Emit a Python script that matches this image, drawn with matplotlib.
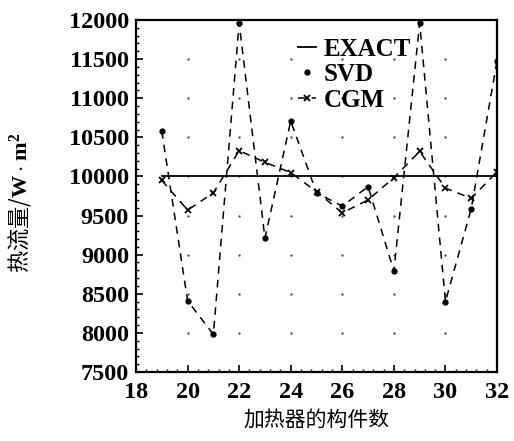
import numpy as np
import matplotlib
matplotlib.use("Agg")
import matplotlib.pyplot as plt
from matplotlib.ticker import MultipleLocator

plt.rcParams['font.family'] = ['Noto Sans CJK SC', 'DejaVu Sans']
plt.rcParams['mathtext.fontset'] = 'custom'
plt.rcParams['mathtext.bf'] = 'Liberation Serif:bold'
plt.rcParams['mathtext.rm'] = 'Liberation Serif:bold'

# data
components = [19, 20, 21, 22, 23, 24, 25, 26, 27, 28, 29, 30, 31, 32]
exact = [10000] * len(components)
svd = [10580, 8410, 7980, 11960, 9210, 10710, 9790, 9620, 9870, 8790, 11960, 8400, 9590, 11480]
cgm = [9950, 9570, 9790, 10330, 10180, 10050, 9805, 9535, 9700, 9985, 10320, 9850, 9720, 10060]

x_ticks = [18, 20, 22, 24, 26, 28, 30, 32]
y_ticks = [7500, 8000, 8500, 9000, 9500, 10000, 10500, 11000, 11500, 12000]

fig = plt.figure(figsize=(5.14, 4.41), dpi=100)
ax = fig.add_axes([0.2646, 0.1565, 0.7024, 0.7981])

# faint grid dots at the major intersections
gx, gy = np.meshgrid(x_ticks[1:-1], y_ticks[1:-1])
ax.plot(gx.ravel(), gy.ravel(), ls='none', marker='.', ms=1.5, color='#555555')

ax.plot(components, exact, '-', color='black', lw=1.3, label='EXACT')
ax.plot(components, svd, '--', color='black', lw=1.1, dashes=(5, 4))
ax.plot(components, svd, 'o', color='black', ms=3.5, label='SVD')
ax.plot(components, cgm, '--', color='black', lw=1.1, marker='x', ms=5, mew=1.3,
        dashes=(5, 4), label='CGM')

ax.set_xlim(18, 32)
ax.set_ylim(7500, 12000)
ax.set_xticks(x_ticks)
ax.set_yticks(y_ticks)
ax.xaxis.set_minor_locator(MultipleLocator(0.4))
ax.yaxis.set_minor_locator(MultipleLocator(100))
ax.tick_params(which='major', direction='in', length=5, width=1.2)
ax.tick_params(axis='x', which='major', pad=7)
ax.tick_params(axis='y', which='major', pad=5)
ax.tick_params(which='minor', direction='in', length=2.5, width=1)
for lab in ax.get_xticklabels() + ax.get_yticklabels():
    lab.set_family('Liberation Serif')
    lab.set_weight('bold')
    lab.set_fontsize(17.5)
for sp in ax.spines.values():
    sp.set_linewidth(1.6)

ax.set_xlabel('加热器的构件数', fontsize=15, labelpad=4)
ax.set_ylabel(r'热流量/$\mathbf{W\cdot m^2}$', fontsize=16)
ax.yaxis.set_label_coords(-0.285, 0.48)

ax.legend(loc='upper left', bbox_to_anchor=(0.45, 0.95), frameon=False,
          borderpad=0, borderaxespad=0,
          handlelength=0.7, handletextpad=0.3, labelspacing=0.1,
          prop={'family': 'Liberation Serif', 'weight': 'bold', 'size': 18})

fig.savefig('out.png', dpi=100)
